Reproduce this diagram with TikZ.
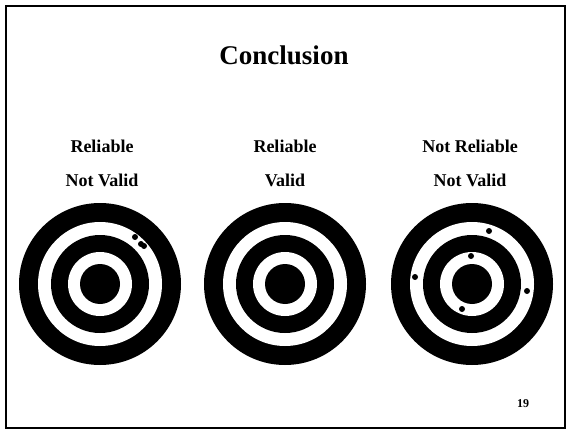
\documentclass[tikz,border=0pt]{standalone}
\usepackage{fontspec}
\setmainfont{Liberation Serif}

\begin{document}
\begin{tikzpicture}[x=1pt, y=-1pt,
				lbl/.style={font=\fontsize{18}{20}\selectfont\bfseries, anchor=base, inner sep=0pt},
				hit/.style={fill=black}]
				\useasboundingbox (0,0) rectangle (569,430);
				\draw[line width=2.2pt] (6,6) rectangle (565,428);
				\node[font=\fontsize{27}{30}\selectfont\bfseries, anchor=base, inner sep=0pt] (title) at (284,65) {Conclusion};
				% labels above the targets
				\node[lbl] (rel1) at (102,152.5) {Reliable};
				\node[lbl] (val1) at (102,186)   {Not Valid};
				\node[lbl] (rel2) at (285,152.5) {Reliable};
				\node[lbl] (val2) at (285,186)   {Valid};
				\node[lbl] (rel3) at (470,152.5) {Not Reliable};
				\node[lbl] (val3) at (470,186)   {Not Valid};
				% targets
				\coordinate (t1) at (100,284);
				\coordinate (t2) at (285,284);
				\coordinate (t3) at (472,284);
				\foreach \t in {t1,t2,t3}
					\foreach \r/\c in {81/black,62/white,49/black,32/white,20/black}
						\fill[\c] (\t) circle[radius=\r pt];
				% shots
				\foreach \p in {(135,237),(141,244),(144,246)}
					\fill[hit] \p circle[radius=3pt];
				\foreach \p in {(489,231),(471,256),(415,277),(527,291),(462,309)}
					\fill[hit] \p circle[radius=3pt];
				\node[font=\fontsize{12}{14}\selectfont\bfseries, anchor=base, inner sep=0pt] (page) at (523,407) {19};
			\end{tikzpicture}
\end{document}
